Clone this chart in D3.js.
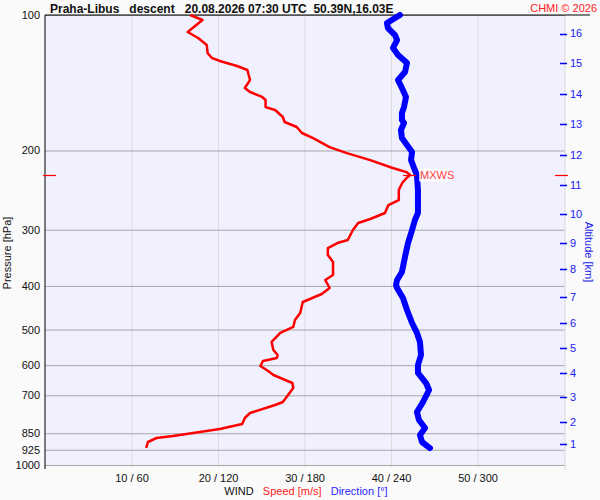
<!DOCTYPE html>
<html><head><meta charset="utf-8">
<script src="https://cdn.jsdelivr.net/npm/d3@7"></script>
<style>
html,body{margin:0;padding:0;background:#fafafa;}
svg{display:block;font-family:"Liberation Sans",Arial,sans-serif;}
</style></head>
<body>
<svg id="chart" width="600" height="500"></svg>
<script>
// ---- data ----
const title = "Praha-Libus   descent   20.08.2026 07:30 UTC  50.39N,16.03E";
const credit = "CHMI \u00a9 2026";
const pressureTicks = [100, 200, 300, 400, 500, 600, 700, 850, 925, 1000];
const speedTicks = [10, 20, 30, 40, 50];
const altitudeKm = [1, 2, 3, 4, 5, 6, 7, 8, 9, 10, 11, 12, 13, 14, 15, 16];
const altitudePressure = [898, 803, 706, 624, 550, 484, 423, 367, 321, 277, 239, 205, 175, 150, 128, 110];

// wind speed profile [m/s] vs pressure [hPa]
const speedPressure = [100,102.6,109.1,112.5,116.6,121.5,124.6,126.5,129.8,132.5,139.5,145.3,148.3,152.1,154.5,160.2,162.6,168.5,172.9,177.4,182.9,187.7,196.6,202.7,210.1,218.8,223.4,226.8,230.3,236.3,244.9,257.8,264.5,275.4,284.0,289.9,300.5,316.2,321.2,329.5,341.5,353.9,378.2,388.0,404.3,416.9,434.3,459.4,476.2,493.5,508.8,532.7,555.2,569.6,578.4,587.4,602.6,618.2,631.0,657.4,674.4,724.4,735.6,766.3,786.3,810.7,831.8,844.6,862.4,871.0,889.0,916.8];
const speedValues = [16.8,18.2,16.5,17.7,18.7,18.8,19.3,20.2,22.2,23.4,23.7,23.1,23.7,25.1,25.5,25.5,26.6,27.5,27.7,29.1,29.7,31.0,32.9,34.9,37.6,40.2,41.8,42.2,41.8,41.3,40.9,40.9,39.7,39.3,37.6,36.2,35.6,35.0,33.8,32.7,32.7,33.3,33.3,32.4,32.9,32.0,29.8,29.5,28.9,28.7,27.2,26.2,26.4,26.9,26.8,25.2,24.9,25.8,26.4,28.6,28.7,27.5,26.6,23.7,23.1,22.8,20.2,17.9,14.8,12.9,11.9,11.7];

// wind direction profile [deg] vs pressure [hPa]
const dirPressure = [100,104.2,106.9,110.8,113.7,118.4,122.7,127.8,133.9,139.5,145.3,152.1,160.2,165.1,171.1,173.8,180.1,187.7,194.5,201.6,210.1,218.8,226.8,244.9,275.4,285.4,300.5,321.2,344.9,372.4,388.0,398.1,404.3,425.5,452.4,483.5,508.8,532.7,569.6,599.5,624.5,657.4,681.3,724.4,762.4,794.3,827.6,857.7,889.0,916.8];
const dirValues = [246.2,237.2,237.9,242.8,244.2,241.4,244.9,251.1,249.7,244.9,247.6,250.4,249.0,247.6,247.6,249.0,246.9,247.6,251.1,254.6,253.9,256.0,258.0,258.7,258.7,256.6,254.6,251.8,249.7,247.6,244.2,243.5,244.2,248.3,251.1,254.6,258.0,260.1,260.8,258.7,258.7,264.3,266.4,262.2,258.0,259.4,263.6,260.1,261.5,267.0];

const maxWindSpeed = 42.2;
const maxWindPressure = 227;

// ---- layout ----
const svg = d3.select("#chart");
const L = 45, R = 565, T = 15, B = 465;
const y = d3.scaleLog().domain([100, 1000]).range([T, B]);
const xs = d3.scaleLinear().domain([0, 60]).range([L, 564]);
const xd = d3.scaleLinear().domain([0, 360]).range([L, 564]);

svg.append("rect").attr("x", L).attr("y", T).attr("width", R - L).attr("height", B - T).attr("fill", "#f0f0ff");

// vertical grid + bottom labels
const gx = svg.append("g").attr("transform", `translate(0,${B})`)
  .call(d3.axisBottom(xs).tickValues(speedTicks).tickSize(-(B - T)).tickPadding(9)
    .tickFormat(d => `${d} / ${d * 6}`));
gx.select(".domain").remove();
gx.selectAll(".tick line").attr("stroke", "#dcdcdc").attr("y2", -(B - T)).attr("y1", 2);
gx.selectAll(".tick text").attr("font-size", 11).attr("fill", "#111").attr("font-family", "Liberation Sans, Arial, sans-serif");

// horizontal grid + pressure labels
const gy = svg.append("g").attr("transform", `translate(${L},0)`)
  .call(d3.axisLeft(y).tickValues(pressureTicks).tickSize(-(R - L)).tickPadding(5).tickFormat(d3.format("d")));
gy.select(".domain").remove();
gy.selectAll(".tick line").attr("stroke", "#a8a8a8");
gy.selectAll(".tick text").attr("font-size", 11).attr("fill", "#111").attr("font-family", "Liberation Sans, Arial, sans-serif");

// right border line
svg.append("line").attr("x1", R).attr("x2", R).attr("y1", T).attr("y2", 470).attr("stroke", "#d8d8d8");
// left axis line & top line
svg.append("line").attr("x1", L).attr("x2", L).attr("y1", T).attr("y2", 469).attr("stroke", "#000");
svg.append("line").attr("x1", L).attr("x2", 590).attr("y1", T).attr("y2", T).attr("stroke", "#000");

// altitude axis
const alt = svg.append("g");
alt.selectAll("line").data(altitudeKm).join("line")
  .attr("x1", 560).attr("x2", 567)
  .attr("y1", (d, i) => Math.round(y(altitudePressure[i])) + 0.5)
  .attr("y2", (d, i) => Math.round(y(altitudePressure[i])) + 0.5)
  .attr("stroke", "#0000ee").attr("stroke-width", 1.5);
alt.selectAll("text").data(altitudeKm).join("text")
  .attr("x", 570).attr("y", (d, i) => y(altitudePressure[i]))
  .attr("dy", "0.35em").attr("font-size", 11).attr("fill", "#2020ee").text(d => d);

// direction line
const dirPts = dirValues.map((v, i) => [xd(v), y(dirPressure[i])]);
svg.append("path").attr("d", d3.line()(dirPts)).attr("fill", "none")
  .attr("stroke", "#0000ff").attr("stroke-width", 6).attr("stroke-linejoin", "round").attr("stroke-linecap", "round");

// speed line
const spdPts = speedValues.map((v, i) => [xs(v), y(speedPressure[i])]);
svg.append("path").attr("d", d3.line()(spdPts)).attr("fill", "none")
  .attr("stroke", "#ff0000").attr("stroke-width", 2.5).attr("stroke-linejoin", "round");

// max wind markers
const my = Math.round(y(maxWindPressure)) + 0.5;
svg.append("line").attr("x1", 43).attr("x2", 56).attr("y1", my).attr("y2", my).attr("stroke", "#ff0000").attr("stroke-width", 1.2);
svg.append("line").attr("x1", 555).attr("x2", 568).attr("y1", my).attr("y2", my).attr("stroke", "#ff0000").attr("stroke-width", 1.2);
const mx = xs(maxWindSpeed);
svg.append("line").attr("x1", mx - 7).attr("x2", mx + 6).attr("y1", my).attr("y2", my).attr("stroke", "#ff0000").attr("stroke-width", 1.2);
svg.append("rect").attr("x", mx + 9).attr("y", my - 7).attr("width", 33).attr("height", 13).attr("fill", "#ffffff").attr("opacity", 0.75);
svg.append("text").attr("x", mx + 10).attr("y", my).attr("dy", "0.35em").attr("font-size", 11).attr("fill", "#ff4040").text("MXWS");

// titles
svg.append("text").attr("x", 50).attr("y", 13).attr("font-size", 12).attr("font-weight", "bold")
  .attr("fill", "#111").style("white-space", "pre").text(title);
svg.append("text").attr("x", 597).attr("y", 12).attr("text-anchor", "end").attr("font-size", 11)
  .attr("fill", "#ff2020").text(credit);

svg.append("text").attr("transform", "translate(11,253) rotate(-90)").attr("text-anchor", "middle")
  .attr("font-size", 11).attr("fill", "#111").text("Pressure [hPa]");
svg.append("text").attr("transform", "translate(585,252) rotate(90)").attr("text-anchor", "middle")
  .attr("font-size", 11).attr("fill", "#2020ee").text("Altitude [km]");

const leg = svg.append("text").attr("x", 306).attr("y", 495).attr("text-anchor", "middle").attr("font-size", 11).style("white-space", "pre");
leg.append("tspan").attr("fill", "#111").text("WIND   ");
leg.append("tspan").attr("fill", "#ff2020").text("Speed [m/s]   ");
leg.append("tspan").attr("fill", "#2828ff").text("Direction [\u00b0]");
</script>
</body></html>
